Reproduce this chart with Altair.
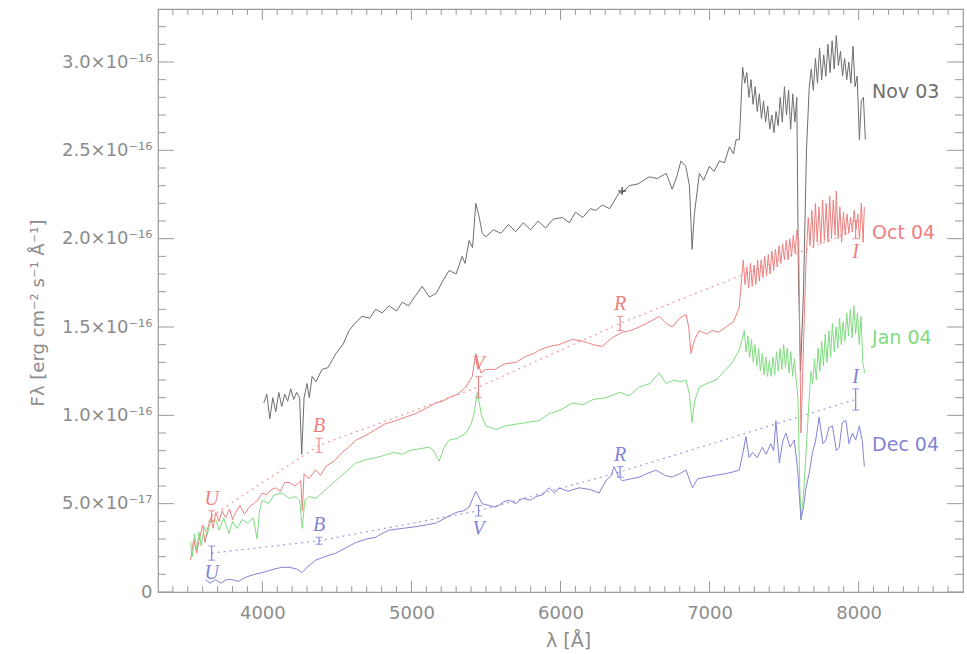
import altair as alt
import pandas as pd

W, H = 805, 583

# ---------------- spectra (flux in units of 1e-16 erg cm^-2 s^-1 A^-1) ----------------
nov03_wl = [4010, 4030, 4050, 4070, 4090, 4110, 4130, 4150, 4170, 4190, 4210, 4230, 4250, 4264, 4280,
            4300, 4315, 4334, 4360, 4400, 4440, 4494, 4540, 4582, 4620, 4669, 4720, 4760, 4804, 4850,
            4900, 4938, 4980, 5030, 5072, 5120, 5166, 5210, 5253, 5300, 5340, 5360, 5387, 5410, 5432,
            5455, 5475, 5499, 5550, 5600, 5650, 5700, 5750, 5800, 5850, 5900, 5950, 6012, 6060, 6100,
            6150, 6200, 6237, 6280, 6330, 6393, 6416, 6460, 6520, 6595, 6650, 6709, 6749, 6780, 6808,
            6840, 6865, 6883, 6898, 6932, 6960, 6999, 7030, 7066, 7100, 7133, 7160, 7178, 7200,
            7222, 7236, 7250, 7264, 7278, 7292, 7306, 7320, 7334, 7348, 7362, 7376, 7390, 7404, 7418,
            7432, 7446, 7460, 7474, 7488, 7502, 7516, 7530, 7544, 7558, 7572, 7585, 7596, 7610, 7630,
            7650, 7668, 7682, 7696, 7710, 7724, 7738, 7752, 7766, 7780, 7794, 7808, 7822, 7836, 7850,
            7864, 7878, 7892, 7906, 7920, 7934, 7948, 7962, 7976, 7990, 8005, 8018, 8032, 8045]
nov03_flux = [1.07, 1.12, 0.98, 1.10, 1.02, 1.13, 1.05, 1.12, 1.08, 1.15, 1.09, 1.13, 1.10, 0.78, 1.10,
              1.18, 1.10, 1.22, 1.19, 1.26, 1.27, 1.35, 1.40, 1.48, 1.52, 1.56, 1.55, 1.60, 1.58, 1.62,
              1.59, 1.64, 1.62, 1.68, 1.73, 1.67, 1.69, 1.76, 1.82, 1.80, 1.90, 1.86, 1.99, 1.95, 2.20,
              2.12, 2.03, 2.01, 2.05, 2.03, 2.08, 2.04, 2.09, 2.05, 2.10, 2.06, 2.11, 2.12, 2.09, 2.15,
              2.12, 2.17, 2.16, 2.19, 2.17, 2.26, 2.26, 2.30, 2.31, 2.35, 2.34, 2.37, 2.28, 2.35, 2.44,
              2.41, 2.30, 1.94, 2.14, 2.37, 2.33, 2.41, 2.38, 2.44, 2.43, 2.52, 2.48, 2.56, 2.56,
              2.97, 2.88, 2.94, 2.80, 2.90, 2.76, 2.86, 2.72, 2.82, 2.68, 2.78, 2.66, 2.75, 2.62, 2.70,
              2.60, 2.72, 2.64, 2.80, 2.66, 2.86, 2.70, 2.84, 2.62, 2.82, 2.66, 2.80, 1.80, 1.25, 1.70,
              2.50, 2.85, 2.96, 2.84, 3.02, 2.88, 3.08, 2.90, 3.04, 2.92, 3.10, 2.94, 3.12, 2.96, 3.15,
              2.98, 3.06, 2.92, 3.02, 2.90, 3.00, 2.88, 3.09, 2.86, 2.92, 2.56, 2.78, 2.80, 2.56]

oct04_wl = [3519, 3540, 3560, 3575, 3600, 3615, 3630, 3654, 3670, 3687, 3710, 3730, 3754, 3780, 3800,
            3821, 3850, 3880, 3911, 3940, 3970, 3998, 4030, 4060, 4090, 4120, 4150, 4179, 4220, 4258,
            4268, 4280, 4310, 4358, 4390, 4425, 4480, 4535, 4580, 4627, 4680, 4720, 4761, 4820, 4895,
            4960, 5030, 5100, 5164, 5210, 5253, 5310, 5365, 5408, 5432, 5466, 5499, 5560, 5620, 5700,
            5760, 5820, 5860, 5924, 5990, 6079, 6150, 6220, 6280, 6320, 6347, 6414, 6470, 6528, 6600,
            6662, 6710, 6749, 6800, 6842, 6860, 6875, 6900, 6931, 6980, 7020, 7060, 7110, 7160, 7199,
            7226, 7238, 7250, 7262, 7274, 7286, 7298, 7310, 7322, 7334, 7346, 7358, 7370, 7382, 7394,
            7406, 7418, 7430, 7442, 7454, 7466, 7478, 7490, 7502, 7514, 7526, 7538, 7550, 7562, 7574,
            7586, 7598, 7613, 7630, 7648, 7662, 7674, 7686, 7698, 7710, 7722, 7734, 7746, 7758, 7770,
            7782, 7794, 7806, 7818, 7830, 7842, 7850, 7862, 7874, 7886, 7898, 7910, 7922, 7934, 7946,
            7958, 7970, 7982, 7994, 8006, 8018, 8030, 8038]
oct04_flux = [0.18, 0.30, 0.22, 0.29, 0.38, 0.28, 0.35, 0.42, 0.36, 0.45, 0.40, 0.46, 0.42, 0.47, 0.41,
              0.45, 0.49, 0.44, 0.48, 0.50, 0.52, 0.56, 0.55, 0.58, 0.59, 0.57, 0.62, 0.62, 0.60, 0.63,
              0.46, 0.67, 0.64, 0.69, 0.66, 0.71, 0.74, 0.79, 0.82, 0.86, 0.88, 0.90, 0.92, 0.95, 0.97,
              0.99, 1.01, 1.04, 1.07, 1.08, 1.10, 1.12, 1.16, 1.22, 1.35, 1.24, 1.26, 1.26, 1.29, 1.30,
              1.33, 1.35, 1.37, 1.39, 1.40, 1.43, 1.42, 1.40, 1.39, 1.42, 1.44, 1.47, 1.48, 1.50, 1.53,
              1.56, 1.52, 1.50, 1.55, 1.57, 1.50, 1.35, 1.43, 1.48, 1.46, 1.48, 1.47, 1.50, 1.53, 1.61,
              1.88, 1.74, 1.84, 1.72, 1.86, 1.73, 1.85, 1.74, 1.88, 1.76, 1.88, 1.78, 1.90, 1.79, 1.91,
              1.80, 1.93, 1.82, 1.94, 1.84, 1.96, 1.86, 1.97, 1.88, 1.99, 1.88, 2.00, 1.90, 2.02, 1.92,
              2.05, 1.98, 0.90, 1.40, 1.90, 2.12, 1.96, 2.16, 1.95, 2.20, 1.98, 2.18, 1.97, 2.22, 1.99,
              2.20, 1.98, 2.24, 2.00, 2.22, 2.02, 2.27, 2.00, 2.18, 1.98, 2.15, 2.02, 2.14, 2.03, 2.12,
              2.04, 2.16, 2.05, 2.14, 2.00, 2.20, 1.98, 2.18]

jan04_wl = [3519, 3530, 3545, 3560, 3575, 3590, 3610, 3630, 3650, 3687, 3710, 3740, 3777, 3800, 3830,
            3865, 3900, 3940, 3964, 3980, 3998, 4040, 4080, 4132, 4180, 4224, 4250, 4268, 4285, 4313,
            4360, 4400, 4450, 4492, 4560, 4627, 4700, 4760, 4804, 4880, 4940, 4984, 5050, 5118, 5150,
            5186, 5220, 5253, 5310, 5365, 5400, 5421, 5442, 5470, 5499, 5566, 5630, 5700, 5780, 5857,
            5924, 6000, 6079, 6150, 6220, 6305, 6400, 6460, 6528, 6600, 6662, 6707, 6760, 6800, 6842,
            6865, 6882, 6900, 6931, 6980, 7043, 7100, 7153,
            7199, 7215, 7233, 7245, 7257, 7269, 7281, 7293, 7305, 7317, 7329, 7341, 7353, 7365, 7377,
            7389, 7401, 7413, 7425, 7437, 7449, 7461, 7473, 7485, 7497, 7509, 7521, 7533, 7545, 7557,
            7569, 7581, 7593, 7605, 7613, 7630, 7647, 7665, 7680, 7692, 7704, 7716, 7728, 7740, 7752,
            7764, 7776, 7788, 7800, 7812, 7824, 7836, 7848, 7860, 7872, 7884, 7896, 7908, 7920, 7932,
            7944, 7956, 7968, 7980, 7992, 8004, 8016, 8028, 8040]
jan04_flux = [0.28, 0.20, 0.33, 0.24, 0.34, 0.26, 0.37, 0.32, 0.40, 0.41, 0.35, 0.42, 0.33, 0.40, 0.36,
              0.41, 0.39, 0.42, 0.30, 0.45, 0.52, 0.50, 0.55, 0.56, 0.53, 0.54, 0.52, 0.36, 0.52, 0.54,
              0.53, 0.56, 0.60, 0.63, 0.68, 0.73, 0.75, 0.76, 0.77, 0.79, 0.78, 0.80, 0.81, 0.82, 0.80,
              0.74, 0.82, 0.86, 0.87, 0.90, 0.95, 1.01, 1.13, 1.00, 0.94, 0.92, 0.94, 0.95, 0.96, 0.97,
              1.01, 1.03, 1.07, 1.06, 1.09, 1.10, 1.13, 1.11, 1.16, 1.18, 1.24, 1.18, 1.20, 1.19, 1.20,
              1.12, 0.96, 1.08, 1.16, 1.18, 1.20, 1.25, 1.30,
              1.37, 1.42, 1.48, 1.36, 1.45, 1.33, 1.43, 1.30, 1.40, 1.28, 1.38, 1.25, 1.35, 1.23, 1.33,
              1.22, 1.31, 1.22, 1.33, 1.23, 1.36, 1.25, 1.38, 1.26, 1.40, 1.27, 1.38, 1.24, 1.36, 1.22,
              1.32, 1.20, 1.10, 0.60, 0.41, 0.55, 0.79, 1.05, 1.25, 1.18, 1.32, 1.20, 1.38, 1.25, 1.42,
              1.28, 1.46, 1.30, 1.48, 1.33, 1.52, 1.36, 1.50, 1.38, 1.55, 1.40, 1.53, 1.42, 1.58, 1.45,
              1.60, 1.44, 1.62, 1.46, 1.58, 1.40, 1.56, 1.30, 1.24]

dec04_wl = [3620, 3650, 3687, 3720, 3760, 3797, 3840, 3880, 3911, 3950, 3998, 4040, 4080, 4132, 4180,
            4230, 4267, 4300, 4358, 4420, 4492, 4560, 4627, 4700, 4761, 4800, 4850, 4940, 5030, 5100,
            5164, 5230, 5298, 5350, 5387, 5432, 5475, 5520, 5566, 5620, 5656, 5700, 5745, 5800, 5835,
            5880, 5924, 5960, 5990, 6050, 6125, 6200, 6259, 6305, 6340, 6360, 6390, 6414, 6470, 6528,
            6580, 6640, 6700, 6749, 6800, 6842, 6885, 6920, 6975, 7040, 7110, 7160, 7199, 7222, 7244,
            7265, 7289, 7320, 7354, 7380, 7410, 7430, 7445, 7468, 7490, 7512, 7540, 7568, 7590, 7613,
            7630, 7647, 7670, 7690, 7710, 7735, 7760, 7780, 7800, 7825, 7850, 7870, 7890, 7915, 7935,
            7959, 7980, 8005, 8025, 8038]
dec04_flux = [0.07, 0.05, 0.07, 0.05, 0.07, 0.07, 0.06, 0.08, 0.09, 0.10, 0.11, 0.12, 0.13, 0.14, 0.14,
              0.13, 0.11, 0.14, 0.18, 0.20, 0.22, 0.25, 0.28, 0.30, 0.31, 0.33, 0.35, 0.36, 0.37, 0.38,
              0.39, 0.42, 0.45, 0.46, 0.48, 0.57, 0.50, 0.49, 0.48, 0.51, 0.52, 0.50, 0.53, 0.52, 0.54,
              0.55, 0.59, 0.56, 0.59, 0.57, 0.59, 0.58, 0.56, 0.63, 0.66, 0.71, 0.65, 0.63, 0.64, 0.65,
              0.67, 0.69, 0.66, 0.65, 0.67, 0.69, 0.59, 0.64, 0.65, 0.66, 0.67, 0.68, 0.69, 0.78, 0.88,
              0.76, 0.79, 0.76, 0.82, 0.78, 0.84, 0.80, 0.97, 0.73, 0.85, 0.90, 0.82, 0.86, 0.70, 0.41,
              0.48, 0.59, 0.68, 0.79, 0.85, 0.99, 0.84, 0.86, 0.93, 0.94, 0.80, 0.82, 0.96, 0.97, 0.84,
              0.90, 0.86, 0.94, 0.85, 0.71]

series_names = ["Nov 03", "Oct 04", "Jan 04", "Dec 04"]
line_colors = ["#3a3a3a", "#f26a6a", "#5fe05f", "#5656d2"]
label_colors = ["#6e6e6e", "#ee7f7f", "#80dc80", "#8383d6"]

# ---------------- photometry ----------------
bands = ["U", "B", "V", "R", "I"]
band_wl = [3660, 4380, 5450, 6400, 7980]
oct04_phot = [0.43, 0.83, 1.16, 1.52, 2.05]
oct04_err = [0.03, 0.04, 0.06, 0.04, 0.05]
dec04_phot = [0.22, 0.29, 0.46, 0.68, 1.09]
dec04_err = [0.04, 0.02, 0.03, 0.03, 0.06]
oct04_below = ["I"]
dec04_below = ["U", "V"]
nov03_phot_wl = [6414]
nov03_phot = [2.27]

# label anchors for the series names (wavelength, flux)
name_wl = [8090, 8090, 8090, 8090]
name_flux = [2.83, 2.03, 1.44, 0.83]

# ---------------- ticks ----------------
x_major = [4000, 5000, 6000, 7000, 8000]
x_minor = [v for v in range(3400, 8700, 100) if v not in x_major]
y_major = [0, 0.5, 1.0, 1.5, 2.0, 2.5, 3.0]
y_labels = ["0", "5.0×10⁻¹⁷", "1.0×10⁻¹⁶", "1.5×10⁻¹⁶", "2.0×10⁻¹⁶", "2.5×10⁻¹⁶", "3.0×10⁻¹⁶"]
y_minor = [round(i * 0.1, 1) for i in range(1, 33) if round(i * 0.1, 1) not in y_major]

# ---------------- tables ----------------
spec_rows = []
for name, wls, fls in zip(series_names, [nov03_wl, oct04_wl, jan04_wl, dec04_wl],
                          [nov03_flux, oct04_flux, jan04_flux, dec04_flux]):
    assert len(wls) == len(fls), name
    for w, f in zip(wls, fls):
        spec_rows.append({"series": name, "wl": w, "flux": f})
spec = pd.DataFrame(spec_rows)

phot_rows = []
for name, vals, errs, below in [("Oct 04", oct04_phot, oct04_err, oct04_below),
                                ("Dec 04", dec04_phot, dec04_err, dec04_below)]:
    for b, w, v, e in zip(bands, band_wl, vals, errs):
        phot_rows.append({"series": name, "band": b, "wl": w, "flux": v,
                          "lo": v - e, "hi": v + e, "below": b in below})
phot = pd.DataFrame(phot_rows)

names = pd.DataFrame({"series": series_names, "wl": name_wl, "flux": name_flux})
plus = pd.DataFrame({"wl": nov03_phot_wl, "flux": nov03_phot})
xt_major = pd.DataFrame({"wl": x_major})
xt_minor = pd.DataFrame({"wl": x_minor})
yt_major = pd.DataFrame({"flux": y_major})
yt_minor = pd.DataFrame({"flux": y_minor})

# ---------------- scales / axes ----------------
FONT = "DejaVu Sans"
GRAY = "#8c8c8c"
xs = alt.Scale(domain=[3300, 8700], nice=False, zero=False)
ys = alt.Scale(domain=[0, 3.3], nice=False, zero=False)

expr = "'" + y_labels[-1] + "'"
for v, t in reversed(list(zip(y_major[:-1], y_labels[:-1]))):
    expr = f"abs(datum.value-{v})<1e-6 ? '{t}' : ({expr})"

xax = alt.Axis(values=x_major, format="d", ticks=False, tickSize=0, domain=False, grid=False,
               labelFont=FONT, labelFontSize=18, labelColor=GRAY, labelPadding=12,
               title="λ [Å]", titleFont=FONT, titleFontSize=19, titleFontWeight="normal",
               titleColor=GRAY, titleX=410, titleY=48, titleAlign="center", titleBaseline="middle")
yax = alt.Axis(values=y_major, labelExpr=expr, ticks=False, tickSize=0, domain=False, grid=False,
               labelFont=FONT, labelFontSize=18, labelColor=GRAY, labelPadding=6,
               title="Fλ [erg cm⁻² s⁻¹ Å⁻¹]", titleFont=FONT, titleFontSize=18,
               titleFontWeight="normal", titleColor=GRAY, titleAngle=-90, titleX=-120,
               titleY=H / 2 + 12, titleAlign="center", titleBaseline="middle")

X = lambda f="wl": alt.X(f"{f}:Q", scale=xs, axis=xax)
Y = lambda f="flux": alt.Y(f"{f}:Q", scale=ys, axis=yax)
col_line = alt.Color("series:N", scale=alt.Scale(domain=series_names, range=line_colors), legend=None)
col_lab = alt.Color("series:N", scale=alt.Scale(domain=series_names, range=label_colors), legend=None)

TK = "#9a9a9a"
layers = [
    # ticks on the four sides, pointing inwards
    alt.Chart(xt_major).mark_rule(color=TK).encode(x=X(), y=alt.value(H), y2=alt.value(H - 11)),
    alt.Chart(xt_minor).mark_rule(color=TK).encode(x=X(), y=alt.value(H), y2=alt.value(H - 6)),
    alt.Chart(xt_major).mark_rule(color=TK).encode(x=X(), y=alt.value(0), y2=alt.value(11)),
    alt.Chart(xt_minor).mark_rule(color=TK).encode(x=X(), y=alt.value(0), y2=alt.value(6)),
    alt.Chart(yt_major).mark_rule(color=TK).encode(y=Y(), x=alt.value(0), x2=alt.value(16)),
    alt.Chart(yt_minor).mark_rule(color=TK).encode(y=Y(), x=alt.value(0), x2=alt.value(8)),
    alt.Chart(yt_major).mark_rule(color=TK).encode(y=Y(), x=alt.value(W), x2=alt.value(W - 16)),
    alt.Chart(yt_minor).mark_rule(color=TK).encode(y=Y(), x=alt.value(W), x2=alt.value(W - 8)),
    # photometric connecting lines
    alt.Chart(phot).mark_line(strokeDash=[2, 4], strokeWidth=1.2, opacity=0.8).encode(
        x=X(), y=Y(), color=col_lab, detail="series:N"),
    # spectra
    alt.Chart(spec).mark_line(strokeWidth=1, interpolate="linear").encode(
        x=X(), y=Y(), color=col_line, detail="series:N"),
    # error bars
    alt.Chart(phot).mark_rule(strokeWidth=1.2).encode(x=X(), y=Y("lo"), y2="hi:Q", color=col_lab),
    alt.Chart(phot).mark_tick(orient="horizontal", size=7, thickness=1.2).encode(
        x=X(), y=Y("lo"), color=col_lab),
    alt.Chart(phot).mark_tick(orient="horizontal", size=7, thickness=1.2).encode(
        x=X(), y=Y("hi"), color=col_lab),
    # band letters
    alt.Chart(phot).transform_filter("!datum.below").mark_text(
        font="Liberation Serif", fontStyle="italic", fontSize=20, baseline="bottom", dy=-2).encode(
        x=X(), y=Y("hi"), text="band:N", color=col_lab),
    alt.Chart(phot).transform_filter("datum.below").mark_text(
        font="Liberation Serif", fontStyle="italic", fontSize=20, baseline="top", dy=3).encode(
        x=X(), y=Y("lo"), text="band:N", color=col_lab),
    # Nov 03 photometric point
    alt.Chart(plus).mark_point(shape="M-1,0L1,0M0,-1L0,1", size=60, filled=False,
                               strokeWidth=1.5, color="#222").encode(x=X(), y=Y()),
    # series names
    alt.Chart(names).mark_text(font=FONT, fontSize=19, align="left", baseline="middle").encode(
        x=X(), y=Y(), text="series:N", color=col_lab),
]

chart = alt.layer(*layers).properties(
    width=W, height=H,
    autosize=alt.AutoSizeParams(type="none"),
    padding={"left": 158, "top": 9, "right": 4, "bottom": 62},
    background="white",
).configure_view(stroke="#9a9a9a", strokeWidth=1.2)

chart.save("out.html", embed_options={"renderer": "svg", "actions": False})
